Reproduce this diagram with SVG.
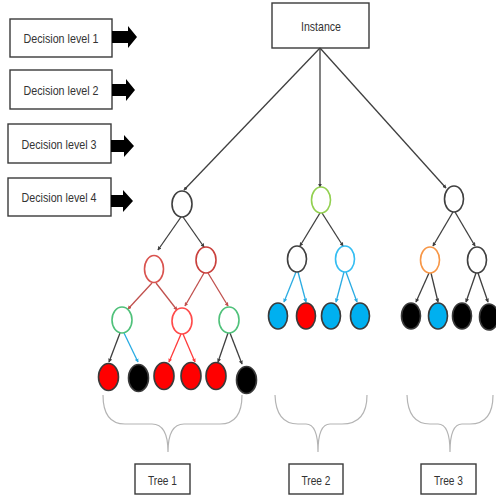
<svg xmlns="http://www.w3.org/2000/svg" width="496" height="499" viewBox="0 0 496 499">
  <style>
    .box { fill: #ffffff; stroke: #3a3a3a; stroke-width: 1.4; }
    .lbl { font-family: "Liberation Sans", Arial, sans-serif; font-size: 13.5px; fill: #333333; text-anchor: middle; }
    .blk { fill: #000000; }
    .node { fill: #ffffff; stroke-width: 1.6; }
    .leaf { stroke: #3a3a3a; stroke-width: 1.6; }
    .e { fill: none; stroke-width: 1.3; }
    .gray { stroke: #3f3f3f; }
    .dred { stroke: #c0504d; }
    .bred { stroke: #ff3b3b; }
    .blue { stroke: #29abe2; }
    .brace { fill: none; stroke: #b4b4b4; stroke-width: 1.2; }
  </style>
  <defs>
    <marker id="ah-gray" viewBox="0 0 6 6" refX="5" refY="3" markerWidth="4" markerHeight="4" orient="auto" markerUnits="userSpaceOnUse">
      <path d="M0,0 L6,3 L0,6 Z" fill="#3f3f3f"/>
    </marker>
    <marker id="ah-dred" viewBox="0 0 6 6" refX="5" refY="3" markerWidth="4" markerHeight="4" orient="auto" markerUnits="userSpaceOnUse">
      <path d="M0,0 L6,3 L0,6 Z" fill="#c0504d"/>
    </marker>
    <marker id="ah-bred" viewBox="0 0 6 6" refX="5" refY="3" markerWidth="4" markerHeight="4" orient="auto" markerUnits="userSpaceOnUse">
      <path d="M0,0 L6,3 L0,6 Z" fill="#ff3b3b"/>
    </marker>
    <marker id="ah-blue" viewBox="0 0 6 6" refX="5" refY="3" markerWidth="4" markerHeight="4" orient="auto" markerUnits="userSpaceOnUse">
      <path d="M0,0 L6,3 L0,6 Z" fill="#29abe2"/>
    </marker>
  </defs>

  <!-- decision level legend -->
  <g id="level1">
    <rect class="box" x="10" y="19" width="102" height="38"/>
    <text class="lbl" x="61" y="43" textLength="75" lengthAdjust="spacingAndGlyphs">Decision level 1</text>
    <polygon class="blk" points="112,31 128,31 128,26 137,37 128,48 128,43 112,43"/>
  </g>
  <g id="level2">
    <rect class="box" x="10" y="70" width="102" height="39"/>
    <text class="lbl" x="61" y="95" textLength="75" lengthAdjust="spacingAndGlyphs">Decision level 2</text>
    <polygon class="blk" points="112,84 126,84 126,79 135,90 126,101 126,96 112,96"/>
  </g>
  <g id="level3">
    <rect class="box" x="8" y="124" width="103" height="39"/>
    <text class="lbl" x="59" y="149" textLength="75" lengthAdjust="spacingAndGlyphs">Decision level 3</text>
    <polygon class="blk" points="111,140 124,140 124,135 134,146 124,157 124,152 111,152"/>
  </g>
  <g id="level4">
    <rect class="box" x="8" y="178" width="103" height="38"/>
    <text class="lbl" x="59" y="202" textLength="75" lengthAdjust="spacingAndGlyphs">Decision level 4</text>
    <polygon class="blk" points="111,195 123,195 123,190 133,201 123,212 123,207 111,207"/>
  </g>

  <!-- input box -->
  <g id="instance">
    <rect class="box" x="272" y="3" width="97" height="45"/>
    <text class="lbl" x="321" y="31" textLength="40" lengthAdjust="spacingAndGlyphs">Instance</text>
  </g>

  <!-- connectors -->
  <g id="connectors">
    <line class="e gray" x1="320" y1="48" x2="184" y2="190" marker-end="url(#ah-gray)"/>
    <line class="e gray" x1="320" y1="48" x2="320" y2="187" marker-end="url(#ah-gray)"/>
    <line class="e gray" x1="320" y1="48" x2="446" y2="188" marker-end="url(#ah-gray)"/>

    <!-- tree 1 -->
    <line class="e gray" x1="181" y1="217" x2="158" y2="250" marker-end="url(#ah-gray)"/>
    <line class="e gray" x1="183" y1="217" x2="204" y2="247" marker-end="url(#ah-gray)"/>
    <line class="e dred" x1="152" y1="283" x2="128" y2="309" marker-end="url(#ah-dred)"/>
    <line class="e dred" x1="156" y1="283" x2="177" y2="310" marker-end="url(#ah-dred)"/>
    <line class="e dred" x1="204" y1="273" x2="185" y2="306" marker-end="url(#ah-dred)"/>
    <line class="e dred" x1="208" y1="273" x2="228" y2="306" marker-end="url(#ah-dred)"/>
    <line class="e gray" x1="120" y1="333" x2="109" y2="362" marker-end="url(#ah-gray)"/>
    <line class="e blue" x1="124" y1="333" x2="138" y2="362" marker-end="url(#ah-blue)"/>
    <line class="e bred" x1="181" y1="334" x2="169" y2="362" marker-end="url(#ah-bred)"/>
    <line class="e bred" x1="183" y1="334" x2="195" y2="362" marker-end="url(#ah-bred)"/>
    <line class="e gray" x1="228" y1="333" x2="218" y2="362" marker-end="url(#ah-gray)"/>
    <line class="e gray" x1="230" y1="333" x2="242" y2="364" marker-end="url(#ah-gray)"/>

    <!-- tree 2 -->
    <line class="e gray" x1="320" y1="213" x2="300" y2="246" marker-end="url(#ah-gray)"/>
    <line class="e gray" x1="322" y1="213" x2="343" y2="246" marker-end="url(#ah-gray)"/>
    <line class="e blue" x1="296" y1="272" x2="284" y2="302" marker-end="url(#ah-blue)"/>
    <line class="e blue" x1="298" y1="272" x2="306" y2="302" marker-end="url(#ah-blue)"/>
    <line class="e blue" x1="344" y1="272" x2="336" y2="302" marker-end="url(#ah-blue)"/>
    <line class="e blue" x1="346" y1="272" x2="357" y2="302" marker-end="url(#ah-blue)"/>

    <!-- tree 3 -->
    <line class="e gray" x1="453" y1="212" x2="433" y2="246" marker-end="url(#ah-gray)"/>
    <line class="e gray" x1="455" y1="212" x2="475" y2="246" marker-end="url(#ah-gray)"/>
    <line class="e gray" x1="429" y1="273" x2="416" y2="302" marker-end="url(#ah-gray)"/>
    <line class="e gray" x1="431" y1="273" x2="438" y2="302" marker-end="url(#ah-gray)"/>
    <line class="e gray" x1="476" y1="273" x2="466" y2="302" marker-end="url(#ah-gray)"/>
    <line class="e gray" x1="478" y1="273" x2="488" y2="302" marker-end="url(#ah-gray)"/>
  </g>

  <!-- tree 1 nodes -->
  <g id="t1-root"><ellipse class="node" cx="182" cy="204" rx="10" ry="13" stroke="#3f3f3f"/></g>
  <g id="t1-a"><ellipse class="node" cx="154" cy="269" rx="9.5" ry="13.5" stroke="#d9534f"/></g>
  <g id="t1-b"><ellipse class="node" cx="206" cy="260" rx="10" ry="13" stroke="#c9403c"/></g>
  <g id="t1-c"><ellipse class="node" cx="122" cy="320" rx="10" ry="13" stroke="#4fc17a"/></g>
  <g id="t1-d"><ellipse class="node" cx="182" cy="321" rx="10" ry="13" stroke="#ff4a4a"/></g>
  <g id="t1-e"><ellipse class="node" cx="229" cy="320" rx="10" ry="13" stroke="#4fc17a"/></g>
  <g id="t1-l1"><ellipse class="leaf" cx="108.5" cy="377" rx="10" ry="13.5" fill="#ff0000"/></g>
  <g id="t1-l2"><ellipse class="leaf" cx="138.5" cy="378" rx="10" ry="13.5" fill="#000000"/></g>
  <g id="t1-l3"><ellipse class="leaf" cx="164" cy="376" rx="10" ry="13.5" fill="#ff0000"/></g>
  <g id="t1-l4"><ellipse class="leaf" cx="191" cy="376" rx="10" ry="13.5" fill="#ff0000"/></g>
  <g id="t1-l5"><ellipse class="leaf" cx="216" cy="376" rx="10" ry="13.5" fill="#ff0000"/></g>
  <g id="t1-l6"><ellipse class="leaf" cx="246.5" cy="380" rx="10" ry="13.5" fill="#000000"/></g>

  <!-- tree 2 nodes -->
  <g id="t2-root"><ellipse class="node" cx="321" cy="200" rx="9.5" ry="13" stroke="#92d050"/></g>
  <g id="t2-a"><ellipse class="node" cx="297" cy="259" rx="9.5" ry="13" stroke="#3f3f3f"/></g>
  <g id="t2-b"><ellipse class="node" cx="345" cy="259" rx="9.5" ry="13" stroke="#33bdf2"/></g>
  <g id="t2-l1"><ellipse class="leaf" cx="278" cy="316" rx="9.5" ry="13" fill="#00b0f0"/></g>
  <g id="t2-l2"><ellipse class="leaf" cx="306" cy="316" rx="9.5" ry="13" fill="#ff0000"/></g>
  <g id="t2-l3"><ellipse class="leaf" cx="331" cy="316" rx="9.5" ry="13" fill="#00b0f0"/></g>
  <g id="t2-l4"><ellipse class="leaf" cx="360" cy="316" rx="9.5" ry="13" fill="#00b0f0"/></g>

  <!-- tree 3 nodes -->
  <g id="t3-root"><ellipse class="node" cx="454" cy="199" rx="9.5" ry="13" stroke="#3f3f3f"/></g>
  <g id="t3-a"><ellipse class="node" cx="430" cy="260" rx="9.5" ry="13" stroke="#f79646"/></g>
  <g id="t3-b"><ellipse class="node" cx="477" cy="260" rx="9.5" ry="13" stroke="#3f3f3f"/></g>
  <g id="t3-l1"><ellipse class="leaf" cx="411" cy="316" rx="9.5" ry="13" fill="#000000"/></g>
  <g id="t3-l2"><ellipse class="leaf" cx="438" cy="316" rx="9.5" ry="13" fill="#00b0f0"/></g>
  <g id="t3-l3"><ellipse class="leaf" cx="462" cy="316" rx="9.5" ry="13" fill="#000000"/></g>
  <g id="t3-l4"><ellipse class="leaf" cx="489" cy="317" rx="9.5" ry="13" fill="#000000"/></g>

  <!-- grouping braces -->
  <g id="braces">
    <path class="brace" d="M103,395 Q103,424 125,424 L152,424 Q168,424 168,452 Q168,424 184,424 L220,424 Q242,424 242,395"/>
    <path class="brace" d="M275,395 Q276,424 298,424 L306,424 Q318,424 318,452 Q318,424 330,424 L342,424 Q367,424 367,395"/>
    <path class="brace" d="M407,395 Q408,424 430,424 L438,424 Q450,424 450,452 Q450,424 462,424 L470,424 Q493,424 493,395"/>
  </g>

  <!-- tree labels -->
  <g id="tree1">
    <rect class="box" x="135" y="464" width="55" height="30"/>
    <text class="lbl" x="162.5" y="485" textLength="29" lengthAdjust="spacingAndGlyphs">Tree 1</text>
  </g>
  <g id="tree2">
    <rect class="box" x="289" y="464" width="54" height="30"/>
    <text class="lbl" x="316" y="485" textLength="29" lengthAdjust="spacingAndGlyphs">Tree 2</text>
  </g>
  <g id="tree3">
    <rect class="box" x="421" y="464" width="55" height="30"/>
    <text class="lbl" x="448.5" y="485" textLength="29" lengthAdjust="spacingAndGlyphs">Tree 3</text>
  </g>
</svg>
